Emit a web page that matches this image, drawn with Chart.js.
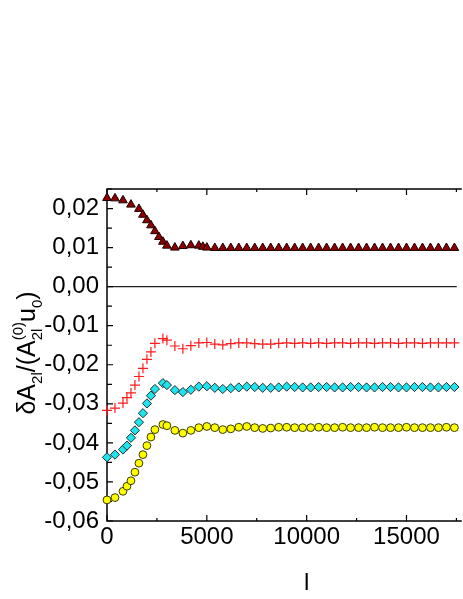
<!DOCTYPE html>
<html>
<head>
<meta charset="utf-8">
<script src="https://cdn.jsdelivr.net/npm/chart.js@4/dist/chart.umd.min.js"></script>
<style>
  html, body { margin: 0; padding: 0; background: #ffffff; }
  #wrap { width: 463px; height: 599px; position: relative; }
</style>
</head>
<body>
<div id="wrap"><canvas id="chart"></canvas></div>
<script>
// tick values
const X_TICKS = [0, 5000, 10000, 15000];
const X_MINOR = [2500, 7500, 12500, 17500];
const Y_TICKS = [-0.06, -0.05, -0.04, -0.03, -0.02, -0.01, 0, 0.01, 0.02];
const Y_MINOR = [-0.055, -0.045, -0.035, -0.025, -0.015, -0.005, 0.005, 0.015, 0.025];

// triangles (dark red)
const triX = [0, 400, 800, 1200, 1600, 1800, 2000, 2200, 2400, 2600, 2800, 3000, 3400, 3800, 4200, 4600, 4800, 5000,
  5400, 5800, 6200, 6600, 7000, 7400, 7800, 8200, 8600, 9000, 9400, 9800, 10200, 10600, 11000, 11400,
  11800, 12200, 12600, 13000, 13400, 13800, 14200, 14600, 15000, 15400, 15800, 16200, 16600, 17000, 17400];
const triY = [0.0227, 0.0226, 0.0221, 0.0210, 0.0199, 0.0184, 0.0170, 0.0157, 0.0142, 0.0127, 0.0115, 0.0105, 0.0100, 0.0104, 0.0106, 0.0105, 0.0102, 0.0100,
  0.0099, 0.0099, 0.0099, 0.0099, 0.0099, 0.0099, 0.0099, 0.0099, 0.0099, 0.0099, 0.0099, 0.0099, 0.0099, 0.0099, 0.0099, 0.0099,
  0.0099, 0.0099, 0.0099, 0.0099, 0.0099, 0.0099, 0.0099, 0.0099, 0.0099, 0.0099, 0.0099, 0.0099, 0.0099, 0.0099, 0.0099];

// x positions shared by crosses, diamonds, circles
const lX = [0, 400, 800, 1000, 1200, 1400, 1600, 1800, 2000, 2200, 2400, 2800, 3000, 3400, 3800, 4200, 4600, 5000,
  5400, 5800, 6200, 6600, 7000, 7400, 7800, 8200, 8600, 9000, 9400, 9800, 10200, 10600, 11000, 11400,
  11800, 12200, 12600, 13000, 13400, 13800, 14200, 14600, 15000, 15400, 15800, 16200, 16600, 17000, 17400];

const crossY = [-0.0317, -0.0311, -0.0298, -0.0284, -0.0272, -0.0252, -0.0230, -0.0209, -0.0186, -0.0167, -0.0145, -0.0133, -0.0137, -0.0152, -0.0159, -0.0151, -0.0144, -0.0143,
  -0.0147, -0.0149, -0.0146, -0.0144, -0.0144, -0.0146, -0.0147, -0.0147, -0.0145, -0.0144, -0.0145, -0.0144, -0.0145, -0.0144, -0.0145, -0.0144,
  -0.0144, -0.0145, -0.0144, -0.0144, -0.0145, -0.0144, -0.0144, -0.0145, -0.0144, -0.0144, -0.0145, -0.0144, -0.0144, -0.0144, -0.0144];

const diamY = [-0.0437, -0.0430, -0.0417, -0.0407, -0.0387, -0.0368, -0.0347, -0.0324, -0.0299, -0.0279, -0.0262, -0.0247, -0.0252, -0.0265, -0.0270, -0.0264, -0.0256, -0.0255,
  -0.0259, -0.0262, -0.0260, -0.0258, -0.0256, -0.0257, -0.0259, -0.0259, -0.0258, -0.0256, -0.0257, -0.0258, -0.0258, -0.0257, -0.0257, -0.0258,
  -0.0258, -0.0257, -0.0257, -0.0258, -0.0258, -0.0257, -0.0257, -0.0258, -0.0258, -0.0257, -0.0257, -0.0258, -0.0258, -0.0257, -0.0257];

const circY = [-0.0546, -0.0540, -0.0524, -0.0511, -0.0497, -0.0475, -0.0452, -0.0430, -0.0407, -0.0385, -0.0366, -0.0353, -0.0356, -0.0368, -0.0375, -0.0368, -0.0361, -0.0358,
  -0.0361, -0.0366, -0.0364, -0.0360, -0.0358, -0.0361, -0.0363, -0.0362, -0.0360, -0.0360, -0.0361, -0.0361, -0.0361, -0.0360, -0.0361, -0.0361,
  -0.0360, -0.0361, -0.0361, -0.0361, -0.0360, -0.0361, -0.0361, -0.0361, -0.0360, -0.0361, -0.0361, -0.0361, -0.0361, -0.0360, -0.0361];

function pts(xs, ys) {
  return xs.map((x, i) => ({ x: x, y: ys[i] }));
}

function fmt(v) {
  return (Math.round(v * 100) / 100).toFixed(2).replace('.', ',').replace('-0,00', '0,00');
}

// frame, zero line and inward ticks
const framePlugin = {
  id: 'frame',
  beforeDatasetsDraw(chart) {
    const { ctx, chartArea: a, scales: { x, y } } = chart;
    ctx.save();

    // zero line
    ctx.lineWidth = 1.2;
    ctx.strokeStyle = '#222222';
    const y0 = y.getPixelForValue(0);
    ctx.beginPath();
    ctx.moveTo(a.left, y0);
    ctx.lineTo(a.right, y0);
    ctx.stroke();

    ctx.strokeStyle = '#000000';
    ctx.lineWidth = 1.5;
    ctx.beginPath();
    ctx.moveTo(a.right + 5, a.top);
    ctx.lineTo(a.left, a.top);
    ctx.lineTo(a.left, a.bottom);
    ctx.lineTo(a.right + 5, a.bottom);
    ctx.stroke();

    ctx.lineWidth = 1.2;
    ctx.beginPath();
    X_TICKS.forEach(v => {
      const px = x.getPixelForValue(v);
      ctx.moveTo(px, a.bottom); ctx.lineTo(px, a.bottom - 6);
      ctx.moveTo(px, a.top); ctx.lineTo(px, a.top + 6);
    });
    X_MINOR.forEach(v => {
      const px = x.getPixelForValue(v);
      ctx.moveTo(px, a.bottom); ctx.lineTo(px, a.bottom - 3);
      ctx.moveTo(px, a.top); ctx.lineTo(px, a.top + 3);
    });
    Y_TICKS.forEach(v => {
      const py = y.getPixelForValue(v);
      ctx.moveTo(a.left, py); ctx.lineTo(a.left + 6, py);
    });
    Y_MINOR.forEach(v => {
      const py = y.getPixelForValue(v);
      ctx.moveTo(a.left, py); ctx.lineTo(a.left + 5, py);
    });
    ctx.stroke();
    ctx.restore();
  }
};

// axis titles with sub/superscripts
const titlePlugin = {
  id: 'titles',
  afterDraw(chart) {
    const ctx = chart.ctx;
    const big = '25px "Liberation Sans", Arial, sans-serif';
    const small = '15px "Liberation Sans", Arial, sans-serif';
    ctx.save();
    ctx.fillStyle = '#000000';

    // x title
    ctx.font = '24px "Liberation Sans", Arial, sans-serif';
    ctx.textAlign = 'center';
    ctx.textBaseline = 'alphabetic';
    ctx.fillText('l', chart.scales.x.getPixelForValue(10000), 590);

    // y title: δA_2l/(A_2l^(0) u_0)
    const parts = [
      { t: 'δA', f: big, dy: 0 },
      { t: '2l', f: small, dy: 7 },
      { t: '/(A', f: big, dy: 0 },
      { t: '2l', f: small, dy: 7, sup: '(0)' },
      { t: 'u', f: big, dy: 0 },
      { t: '0', f: small, dy: 7 },
      { t: ')', f: big, dy: 0 }
    ];
    let total = 0;
    parts.forEach(p => {
      ctx.font = p.f;
      let w = ctx.measureText(p.t).width;
      if (p.sup) w = Math.max(w, ctx.measureText(p.sup).width);
      p.w = w;
      total += w;
    });
    ctx.translate(35, 353);
    ctx.rotate(-Math.PI / 2);
    ctx.textAlign = 'left';
    let cx = -total / 2;
    parts.forEach(p => {
      ctx.font = p.f;
      ctx.fillText(p.t, cx, p.dy);
      if (p.sup) ctx.fillText(p.sup, cx, -12);
      cx += p.w;
    });
    ctx.restore();
  }
};

const baseSet = { showLine: false, clip: false, pointBorderWidth: 1, pointHoverRadius: 5 };

new Chart(document.getElementById('chart'), {
  type: 'scatter',
  data: {
    datasets: [
      Object.assign({}, baseSet, {
        label: 'tri', data: pts(triX, triY), pointStyle: 'triangle', pointRadius: 5,
        backgroundColor: '#8b0000', borderColor: '#1a0000'
      }),
      Object.assign({}, baseSet, {
        label: 'cross', data: pts(lX, crossY), pointStyle: 'cross', pointRadius: 5,
        backgroundColor: '#ff0000', borderColor: '#ff1a1a', pointBorderWidth: 1.2
      }),
      Object.assign({}, baseSet, {
        label: 'diam', data: pts(lX, diamY), pointStyle: 'rectRot', pointRadius: 4.6,
        backgroundColor: '#1fe3ee', borderColor: '#203030'
      }),
      Object.assign({}, baseSet, {
        label: 'circ', data: pts(lX, circY), pointStyle: 'circle', pointRadius: 3.9,
        backgroundColor: '#ffff00', borderColor: '#3a3a00'
      })
    ]
  },
  options: {
    responsive: true,
    maintainAspectRatio: false,
    animation: false,
    layout: { padding: { top: 189, right: 0, left: 0, bottom: 0 } },
    plugins: {
      legend: { display: false },
      tooltip: { enabled: false }
    },
    scales: {
      x: {
        type: 'linear',
        min: 0,
        max: 17520,
        afterFit: s => { s.height = 78; },
        afterBuildTicks: s => { s.ticks = X_TICKS.map(v => ({ value: v })); },
        grid: { display: false, drawTicks: false },
        border: { display: false },
        ticks: {
          color: '#000000',
          padding: 2,
          maxRotation: 0,
          font: { size: 24, family: '"Liberation Sans", Arial, sans-serif' },
          callback: v => String(v)
        }
      },
      y: {
        type: 'linear',
        min: -0.06,
        max: 0.025,
        afterFit: s => { s.width = 107; },
        afterBuildTicks: s => { s.ticks = Y_TICKS.map(v => ({ value: v })); },
        grid: { display: false, drawTicks: false },
        border: { display: false },
        ticks: {
          color: '#000000',
          padding: 8,
          font: { size: 24, family: '"Liberation Sans", Arial, sans-serif' },
          callback: v => fmt(v)
        }
      }
    }
  },
  plugins: [framePlugin, titlePlugin]
});
</script>
</body>
</html>
